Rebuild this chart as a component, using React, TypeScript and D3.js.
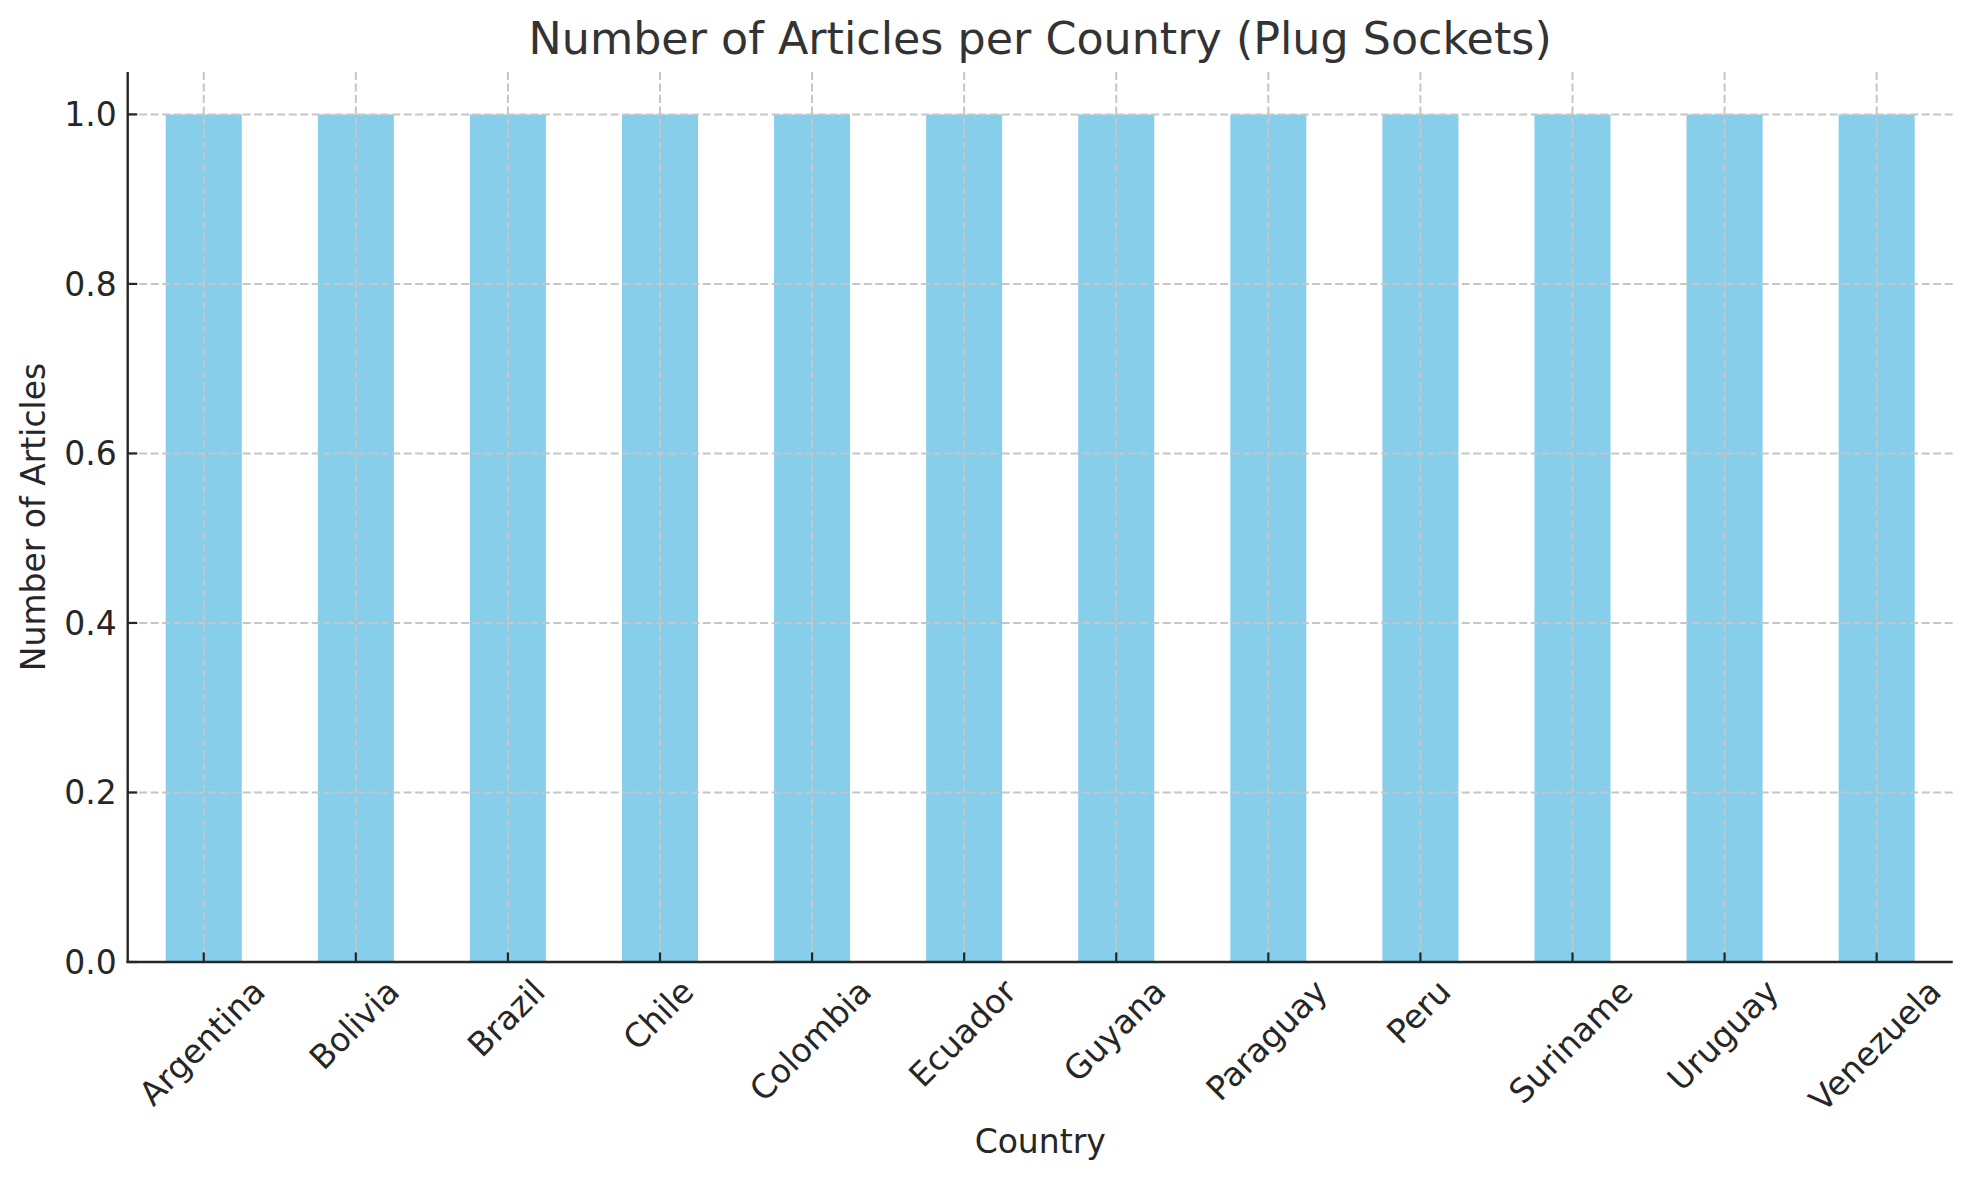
import React, { useEffect, useRef } from "react";
import * as d3 from "d3";

const countries = [
  "Argentina",
  "Bolivia",
  "Brazil",
  "Chile",
  "Colombia",
  "Ecuador",
  "Guyana",
  "Paraguay",
  "Peru",
  "Suriname",
  "Uruguay",
  "Venezuela",
];
const articleCounts = [1, 1, 1, 1, 1, 1, 1, 1, 1, 1, 1, 1];
const yTicks = [0, 0.2, 0.4, 0.6, 0.8, 1.0];
const yDomain = [0, 1.05];

const W = 1972;
const H = 1180;
const FONT = "'DejaVu Sans', Verdana, sans-serif";

export default function App() {
  const ref = useRef<SVGSVGElement | null>(null);

  useEffect(() => {
    const svg = d3.select(ref.current);
    svg.selectAll("*").remove();

    const left = 127.7;
    const right = 1952.7;
    const top = 72;
    const bottom = 962;

    const x = d3
      .scaleBand<string>()
      .domain(countries)
      .range([left, right])
      .paddingInner(0.5)
      .paddingOuter(0.25);
    const y = d3.scaleLinear().domain(yDomain).range([bottom, top]);

    svg.append("rect").attr("width", W).attr("height", H).attr("fill", "#ffffff");

    // bars
    svg
      .append("g")
      .selectAll("rect")
      .data(countries)
      .join("rect")
      .attr("x", (d) => x(d)!)
      .attr("width", x.bandwidth())
      .attr("y", (_d, i) => y(articleCounts[i]))
      .attr("height", (_d, i) => y(0) - y(articleCounts[i]))
      .attr("fill", "#87CEEB");

    // grid
    const grid = svg.append("g").attr("stroke", "#c6c6c6").attr("stroke-width", 2).attr("stroke-dasharray", "8,3.5");
    grid
      .selectAll("line.h")
      .data(yTicks)
      .join("line")
      .attr("class", "h")
      .attr("x1", left)
      .attr("x2", right)
      .attr("y1", (d) => y(d))
      .attr("y2", (d) => y(d));
    grid
      .selectAll("line.v")
      .data(countries)
      .join("line")
      .attr("class", "v")
      .attr("x1", (d) => x(d)! + x.bandwidth() / 2)
      .attr("x2", (d) => x(d)! + x.bandwidth() / 2)
      .attr("y1", top)
      .attr("y2", bottom);

    // spines
    const axisColor = "#262626";
    svg
      .append("line")
      .attr("x1", left)
      .attr("x2", left)
      .attr("y1", top)
      .attr("y2", bottom + 1.1)
      .attr("stroke", axisColor)
      .attr("stroke-width", 2.4);
    svg
      .append("line")
      .attr("x1", left - 1.1)
      .attr("x2", right)
      .attr("y1", bottom)
      .attr("y2", bottom)
      .attr("stroke", axisColor)
      .attr("stroke-width", 2.4);

    // y ticks (inward)
    const yt = svg.append("g");
    yt.selectAll("line")
      .data(yTicks)
      .join("line")
      .attr("x1", left)
      .attr("x2", left + 9.6)
      .attr("y1", (d) => y(d))
      .attr("y2", (d) => y(d))
      .attr("stroke", axisColor)
      .attr("stroke-width", 2.2);
    yt.selectAll("text")
      .data(yTicks)
      .join("text")
      .attr("x", left - 11)
      .attr("y", (d) => y(d) + 12)
      .attr("text-anchor", "end")
      .attr("font-family", FONT)
      .attr("font-size", 33)
      .attr("fill", axisColor)
      .text((d) => d3.format(".1f")(d));

    // x ticks (inward)
    const xt = svg.append("g");
    xt.selectAll("line")
      .data(countries)
      .join("line")
      .attr("x1", (d) => x(d)! + x.bandwidth() / 2)
      .attr("x2", (d) => x(d)! + x.bandwidth() / 2)
      .attr("y1", bottom)
      .attr("y2", bottom - 9.6)
      .attr("stroke", axisColor)
      .attr("stroke-width", 2.2);

    const fs = 33;
    const boxH = 1.164 * fs;
    const labels = xt
      .selectAll("text")
      .data(countries)
      .join("text")
      .attr("text-anchor", "middle")
      .attr("font-family", FONT)
      .attr("font-size", fs)
      .attr("fill", axisColor)
      .text((d) => d);
    labels.each(function (d) {
      const el = this as SVGTextElement;
      const w = el.getComputedTextLength();
      const half = (w + boxH) / (2 * Math.SQRT2);
      const cx = x(d)! + x.bandwidth() / 2 - 2;
      const cy = bottom + 9.6 + half;
      d3.select(el)
        .attr("transform", `translate(${cx},${cy}) rotate(-45)`)
        .attr("x", 0)
        .attr("y", 0.364 * fs);
    });

    // axis labels
    svg
      .append("text")
      .attr("x", (left + right) / 2)
      .attr("y", 1152.7)
      .attr("text-anchor", "middle")
      .attr("font-family", FONT)
      .attr("font-size", 33)
      .attr("fill", axisColor)
      .text("Country");
    svg
      .append("text")
      .attr("transform", `translate(45,${(top + bottom) / 2}) rotate(-90)`)
      .attr("text-anchor", "middle")
      .attr("font-family", FONT)
      .attr("font-size", 33)
      .attr("fill", axisColor)
      .text("Number of Articles");

    // title
    svg
      .append("text")
      .attr("x", (left + right) / 2)
      .attr("y", 54.3)
      .attr("text-anchor", "middle")
      .attr("font-family", FONT)
      .attr("font-size", 44.4)
      .attr("fill", "#333333")
      .text("Number of Articles per Country (Plug Sockets)");
  }, []);

  return (
    <svg
      ref={ref}
      width={W}
      height={H}
      style={{ position: "absolute", left: 0, top: 0, display: "block" }}
    />
  );
}
